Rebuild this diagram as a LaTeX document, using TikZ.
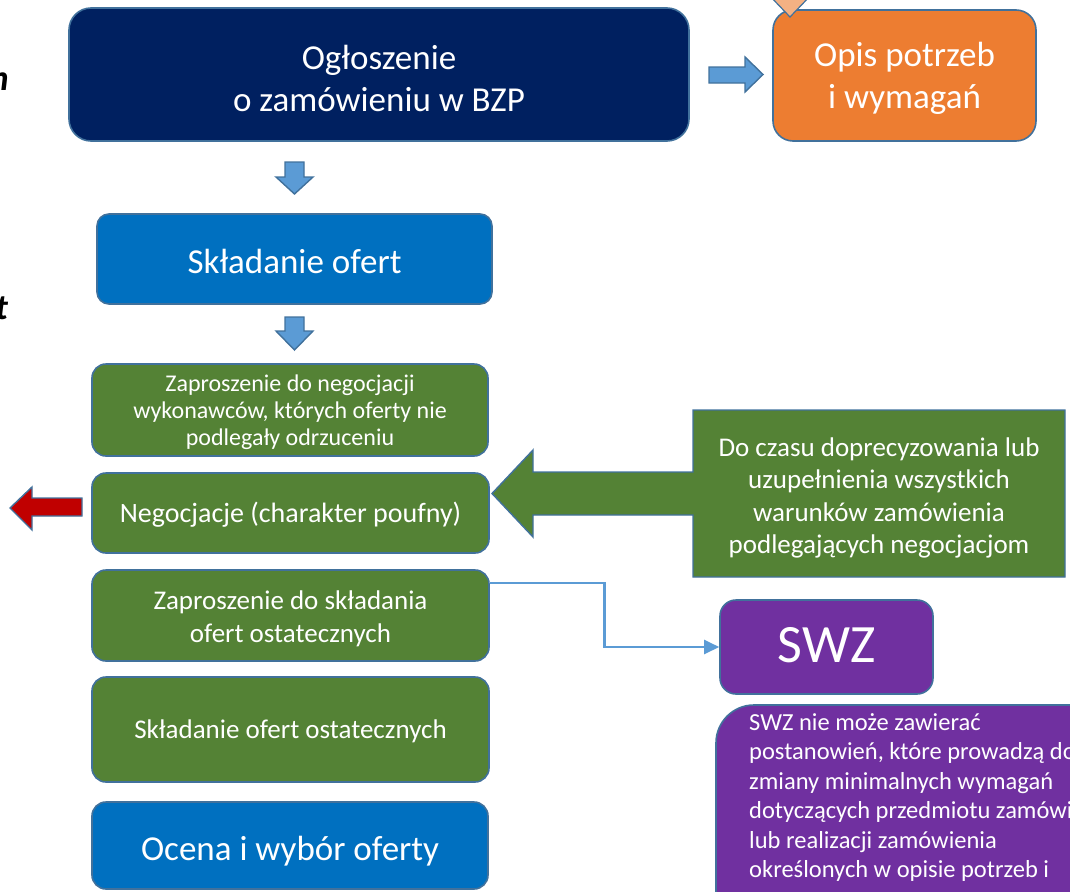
\documentclass[tikz,border=0pt]{standalone}
\usepackage{fontspec}
\setmainfont{Carlito}
\usetikzlibrary{arrows.meta,calc}
\definecolor{navy}{HTML}{002060}
\definecolor{mblue}{HTML}{0070C0}
\definecolor{mgreen}{HTML}{548235}
\definecolor{morange}{HTML}{ED7D31}
\definecolor{mpurple}{HTML}{7030A0}
\definecolor{lblue}{HTML}{5B9BD5}
\definecolor{bord}{HTML}{41719C}
\definecolor{mred}{HTML}{C00000}
\definecolor{peach}{HTML}{F4B183}
\newcommand\fbig{\fontsize{35}{42.5}\selectfont}
\newcommand\fmid{\fontsize{27}{32.5}\selectfont}
\newcommand\fsmall{\fontsize{24}{27}\selectfont}
\newcommand\fpurp{\fontsize{24.5}{29.5}\selectfont}
\begin{document}
\begin{tikzpicture}[x=1pt,y=-1pt,
  box/.style={draw=bord, line width=1.6pt, inner sep=0pt},
  txt/.style={text=white, align=center, inner sep=0pt},
  blockarrow/.style={draw=bord, line width=1.4pt, line join=miter},
  conn/.style={draw=lblue, line width=2.2pt, -{Triangle[length=15pt,width=14pt]}},
  letter/.style={font=\bfseries\itshape\fontsize{36}{40}\selectfont, inner sep=0pt}]
\useasboundingbox (0,0) rectangle (1070,891);
\clip (0,0) rectangle (1070,891);

% cut-off letters on the left
\node[letter, anchor=base east] (lm) at (9,90) {m};
\node[letter, anchor=base east] (lt) at (8,319) {t};

% top row
\node[box, fill=navy, minimum width=620pt, minimum height=133pt, rounded corners=22pt] (ogl) at (379,74.5) {};
\node[txt, font=\fbig] (oglt) at ([yshift=-4pt]ogl.center) {Ogłoszenie\\o zamówieniu w BZP};
\node[box, fill=morange, minimum width=263pt, minimum height=131pt, rounded corners=20pt] (opis) at (904.5,75.5) {};
\node[txt, font=\fbig] (opist) at ([yshift=-3pt]opis.center) {Opis potrzeb\\i wymagań};
\fill[peach, draw=bord, line width=1.2pt] (768,-6) -- (812,-6) -- (790,17) -- cycle;

% right block arrow
\draw[blockarrow, fill=lblue] (709,67) -- (745,67) -- (745,57) -- (763,74.5) -- (745,92) -- (745,83) -- (709,83) -- cycle;

% main column
\node[box, fill=mblue, minimum width=395pt, minimum height=90pt, rounded corners=12pt] (skl) at (294.5,259) {};
\node[txt, font=\fbig] (sklt) at ([yshift=-2pt]skl.center) {Składanie ofert};
\draw[blockarrow, fill=lblue] (285,162) -- (304,162) -- (304,177) -- (313,177) -- (294.5,194) -- (276,177) -- (285,177) -- cycle;
\draw[blockarrow, fill=lblue] (285,317) -- (304,317) -- (304,331) -- (313,331) -- (294.5,350) -- (276,331) -- (285,331) -- cycle;

\node[box, fill=mgreen, minimum width=396pt, minimum height=92pt, rounded corners=14pt] (zap) at (290,410) {};
\node[txt, font=\fsmall] (zapt) at ([yshift=-2pt]zap.center) {Zaproszenie do negocjacji\\wykonawców, których oferty nie\\podlegały odrzuceniu};
\node[box, fill=mgreen, minimum width=397pt, minimum height=80pt, rounded corners=14pt] (neg) at (290.5,513) {};
\node[txt, font=\fontsize{28}{33}\selectfont] (negt) at ([yshift=-2pt]neg.center) {Negocjacje (charakter poufny)};
\node[box, fill=mgreen, minimum width=397pt, minimum height=91pt, rounded corners=14pt] (zap2) at (290.5,615.5) {};
\node[txt, font=\fmid] (zap2t) at ([yshift=-3.5pt]zap2.center) {Zaproszenie do składania\\ofert ostatecznych};
\node[box, fill=mgreen, minimum width=397pt, minimum height=105pt, rounded corners=14pt] (skl2) at (290.5,729.5) {};
\node[txt, font=\fmid] (skl2t) at ([yshift=-2pt]skl2.center) {Składanie ofert ostatecznych};
\node[box, fill=mblue, minimum width=396pt, minimum height=87pt, rounded corners=14pt] (ocena) at (290,845.5) {};
\node[txt, font=\fbig] (ocenat) at ([yshift=-6pt]ocena.center) {Ocena i wybór oferty};

% red arrow on the left
\draw[blockarrow, fill=mred] (82,498) -- (32,498) -- (32,487) -- (10,508) -- (32,530) -- (32,516) -- (82,516) -- cycle;

% green callout with left arrow
\draw[blockarrow, fill=mgreen] (693,410) -- (1065,410) -- (1065,577) -- (693,577) -- (693,515) -- (533,515) -- (533,537) -- (492,493.5) -- (533,450) -- (533,472) -- (693,472) -- cycle;
\node[txt, font=\fmid] (cal) at (879,498) {Do czasu doprecyzowania lub\\uzupełnienia wszystkich\\warunków zamówienia\\podlegających negocjacjom};

% SWZ
\node[box, fill=mpurple, minimum width=213pt, minimum height=94pt, rounded corners=16pt] (swz) at (826.5,647) {};
\node[txt, font=\fontsize{54}{60}\selectfont] (swzt) at ([yshift=2pt]swz.center) {SWZ};
\draw[conn] ([yshift=32.5pt]zap2.east) -| ($(zap2.east)!0.5!(swz.west)$) |- (swz.west);

% purple text box
\draw[draw=bord, line width=1.6pt, fill=mpurple, rounded corners=38pt] (1110,705) -- (716,705) -- (716,930) -- (1110,930);
\node[text=white, align=left, font=\fpurp, inner sep=0pt, anchor=north west] (swztxt) at (749,713) {SWZ nie może zawierać\\postanowień, które prowadzą do\\zmiany minimalnych wymagań\\dotyczących przedmiotu zamówienia\\lub realizacji zamówienia\\określonych w opisie potrzeb i};
\end{tikzpicture}
\end{document}
